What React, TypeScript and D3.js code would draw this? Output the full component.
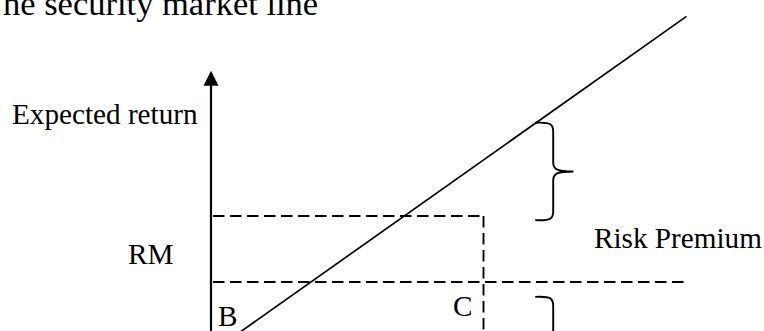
import React from "react";
import * as d3 from "d3";

// Diagram values (beta on x, expected return % on y)
const titleText = "he security market line";
const yAxisLabel = "Expected return";
const pointLabels = ["RM", "B", "C"];
const premiumLabel = "Risk Premium";

const betaDomain = [0, 2];
const returnDomain = [0, 20];

const riskFree = 4; // lower dashed level
const marketReturn = 8; // upper dashed level
const marketBeta = 1;
const lowerLineEndBeta = 1.745;

const smlBetas = [0.11, 1.745];
const smlReturns = [1.0, 20.1];

const axisTopReturn = 16.8;
const axisBottomReturn = -1;

// Braces: [beta of ends, beta of tip, top return, bottom return]
const upperBrace = [1.19, 1.33, 13.65, 7.75];
const lowerBrace = [1.19, 1.33, 3.1, -2.9];

const W = 764;
const H = 331;

export default function App() {
  const x = d3.scaleLinear().domain(betaDomain).range([211, 211 + 2 * 272.5]);
  const y = d3.scaleLinear().domain(returnDomain).range([348, 348 - 20 * 16.5]);

  const line = d3.line<[number, number]>().x((d) => x(d[0])).y((d) => y(d[1]));
  const smlPts: [number, number][] = smlBetas.map((b, i) => [b, smlReturns[i]]);

  const bracePath = (b: number[]) => {
    const x0 = x(b[0]);
    const xt = x(b[1]);
    const yt = y(b[2]);
    const yb = y(b[3]);
    const xm = x0 + (xt - x0) * 0.47;
    const ym = (yt + yb) / 2;
    const r = 9;
    const p = d3.path();
    p.moveTo(x0, yt);
    p.bezierCurveTo(xm - 2, yt - 1, xm, yt + 2, xm, yt + r);
    p.lineTo(xm, ym - r);
    p.bezierCurveTo(xm, ym - 2, xm + 4, ym, xt, ym);
    p.bezierCurveTo(xm + 4, ym, xm, ym + 2, xm, ym + r);
    p.lineTo(xm, yb - r);
    p.bezierCurveTo(xm, yb - 2, xm - 2, yb + 1, x0, yb);
    return p.toString();
  };

  const font = "'Liberation Serif', 'Times New Roman', serif";
  const fs = 29.2;
  const axX = x(0);
  const axTop = y(axisTopReturn);

  return (
    <svg
      width={W}
      height={H}
      style={{ position: "absolute", left: 0, top: 0, background: "#fff" }}
    >
      <text x={3} y={15} fontFamily={font} fontSize={34.5} fill="#000">
        {titleText}
      </text>

      {/* y axis with arrow */}
      <line x1={axX} x2={axX} y1={axTop + 12} y2={y(axisBottomReturn)} stroke="#000" strokeWidth={2.2} />
      <path
        d={`M${axX},${axTop} L${axX - 7.5},${axTop + 15} L${axX + 7.5},${axTop + 15} Z`}
        fill="#000"
      />

      {/* dashed levels */}
      <g stroke="#000" strokeWidth={1.9} strokeDasharray="11.5,5.5" fill="none">
        <line x1={axX + 2} x2={x(marketBeta)} y1={y(marketReturn)} y2={y(marketReturn)} />
        <line x1={axX + 2} x2={x(lowerLineEndBeta)} y1={y(riskFree)} y2={y(riskFree)} />
        <line x1={x(marketBeta)} x2={x(marketBeta)} y1={y(marketReturn)} y2={y(axisBottomReturn)} />
      </g>

      {/* security market line */}
      <path d={line(smlPts) || ""} stroke="#000" strokeWidth={1.7} fill="none" />

      {/* braces */}
      <path d={bracePath(upperBrace)} stroke="#000" strokeWidth={1.9} fill="none" />
      <path d={bracePath(lowerBrace)} stroke="#000" strokeWidth={1.9} fill="none" />

      <g fontFamily={font} fontSize={fs} fill="#000">
        <text x={12} y={124}>{yAxisLabel}</text>
        <text x={128} y={264}>{pointLabels[0]}</text>
        <text x={218} y={326}>{pointLabels[1]}</text>
        <text x={453} y={316}>{pointLabels[2]}</text>
        <text x={594} y={248}>{premiumLabel}</text>
      </g>
    </svg>
  );
}
